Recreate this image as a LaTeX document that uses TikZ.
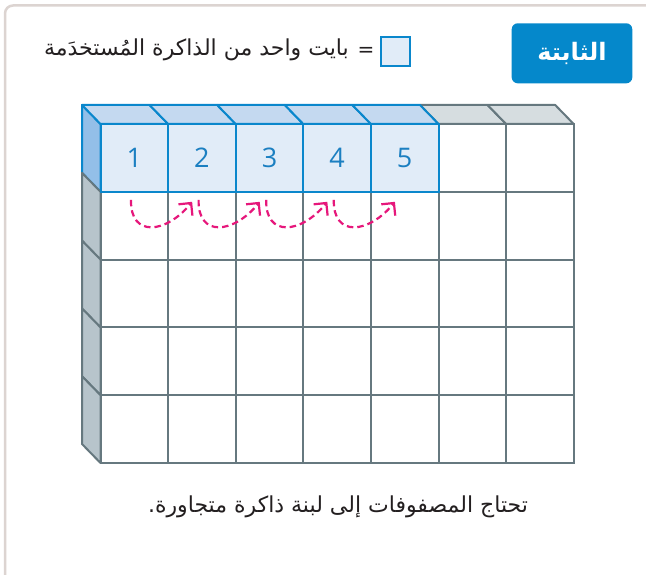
\documentclass[tikz,border=0pt]{standalone}
\usepackage{fontspec}
\setmainfont{DejaVu Sans}
\newfontfamily\arabicfont[Script=Arabic]{DejaVu Sans}
\newfontfamily\numfont{Open Sans}
\TeXXeTstate=1
\usetikzlibrary{arrows.meta,calc}
\definecolor{framec}{HTML}{DCD4D1}
\definecolor{grayline}{HTML}{66787F}
\definecolor{blueline}{HTML}{0A87CC}
\definecolor{topblue}{HTML}{C4D9F0}
\definecolor{topgray}{HTML}{D6DDE0}
\definecolor{sideblue}{HTML}{93BFE8}
\definecolor{sidegray}{HTML}{B7C4CB}
\definecolor{cellblue}{HTML}{E1ECF8}
\definecolor{pinkc}{HTML}{E6177B}
\definecolor{hdrblue}{HTML}{0588CB}
\definecolor{numblue}{HTML}{1B7FC1}
\definecolor{textc}{HTML}{231F20}
\tikzset{
  gcell/.style={draw=grayline, fill=white, line width=2pt, minimum width=67.6pt, minimum height=67.8pt, inner sep=0pt, outer sep=0pt},
  bcell/.style={draw=blueline, fill=cellblue, line width=2pt, minimum width=67.6pt, minimum height=67.8pt, inner sep=0pt, outer sep=0pt, text=numblue, font=\numfont\fontsize{27}{31}\selectfont},
  sidegrayface/.style={fill=sidegray, draw=grayline, line width=2pt, line join=round},
  sideblueface/.style={fill=sideblue, draw=blueline, line width=2pt, line join=round},
  topgrayface/.style={fill=topgray, draw=grayline, line width=2pt, line join=round},
  topblueface/.style={fill=topblue, draw=blueline, line width=2pt, line join=round},
  pinkarrow/.style={draw=pinkc, line width=2.2pt, dash pattern=on 6.5pt off 4pt, -{Straight Barb[length=9pt,width=18pt]}},
  hdrbox/.style={fill=hdrblue, draw=none, rounded corners=6pt, minimum width=120.6pt, minimum height=60pt, text=white, font=\arabicfont\bfseries\fontsize{24}{28}\selectfont},
  arlabel/.style={text=textc, inner sep=0pt, font=\arabicfont\fontsize{22}{26}\selectfont},
  legendbox/.style={draw=blueline, fill=cellblue, line width=2pt, minimum width=29pt, minimum height=29pt, inner sep=0pt}
}
\begin{document}
\begin{tikzpicture}[x=1pt,y=-1pt]
\useasboundingbox (0,0) rectangle (646,575);
\clip (0,0) rectangle (646,575);
\fill[white] (0,0) rectangle (646,575);
% frame
\draw[framec, line width=2.5pt, rounded corners=8pt] (5,5.5) rectangle (700,620);
% header
\node[hdrbox] (hdr) at (572,53.3) {\beginR الثابتة\endR};
% legend
\node[legendbox] (leg) at (395.5,51.2) {};
\node[text=textc, inner sep=0pt, font=\fontsize{20}{24}\selectfont] (eq) at (366,52) {=};
\node[arlabel, anchor=east] (legtxt) at (349,50) {\beginR بايت واحد من الذاكرة المُستخدَمة\endR};
% left face
\draw[sideblueface] (100.5,124) -- ++(-18.5,-19) -- ++(0,67.8) -- ++(18.5,19) -- cycle;
\foreach \r in {1,...,4}{
  \draw[sidegrayface] (100.5,{124+\r*67.8}) -- ++(-18.5,-19) -- ++(0,67.8) -- ++(18.5,19) -- cycle;
}
% top face
\foreach \c in {5,6}{
  \draw[topgrayface] ({100.5+\c*67.6},124) -- ++(-18.5,-19) -- ++(67.6,0) -- ++(18.5,19) -- cycle;
}
\foreach \c in {0,...,4}{
  \draw[topblueface] ({100.5+\c*67.6},124) -- ++(-18.5,-19) -- ++(67.6,0) -- ++(18.5,19) -- cycle;
}
% front grid
\foreach \r in {0,...,4}{
  \foreach \c in {0,...,6}{
    \node[gcell] (g-\r-\c) at ({100.5+\c*67.6+33.8},{124+\r*67.8+33.9}) {};
  }
}
\foreach \c/\n in {0/1,1/2,2/3,3/4,4/5}{
  \node[bcell] (n\n) at ({100.5+\c*67.6+33.8},{124+33.9}) {\n};
}
% arrows
\foreach \c in {0,...,3}{
  \pgfmathtruncatemacro{\d}{\c+1}
  \coordinate (a\c) at ($(g-1-\c.north west)+(30.5,8)$);
  \coordinate (b\c) at ($(g-1-\d.north west)+(24,10)$);
  \draw[pinkarrow] (a\c) .. controls +(-1,38) and +(-26,32) .. (b\c);
}
% bottom text
\node[arlabel] (bottxt) at (338,507) {\beginR تحتاج المصفوفات إلى لبنة ذاكرة متجاورة.\endR};
\end{tikzpicture}
\end{document}
